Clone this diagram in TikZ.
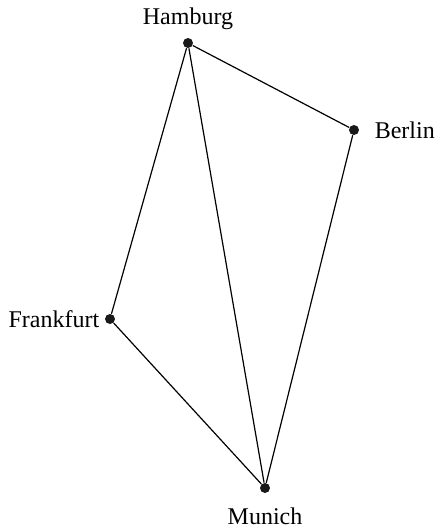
\documentclass[tikz,border=0pt]{standalone}
\usepackage{fontspec}
\setmainfont{Liberation Serif}
\begin{document}
\begin{tikzpicture}[x=0.5pt, y=-0.5pt,
  city/.style={circle, fill=black!90, inner sep=0pt, minimum size=5pt},
  every label/.style={inner sep=0pt, font=\fontsize{12}{14}\selectfont},
  road/.style={line width=0.6pt}]
  \useasboundingbox (0,0) rectangle (437,527);
  % cities
  \node[city, label={[label distance=4pt]above:Hamburg}] (hamburg) at (188,43) {};
  \node[city, label={[label distance=7.5pt]right:Berlin}] (berlin) at (354,130) {};
  \node[city, label={[label distance=2.5pt]left:Frankfurt}] (frankfurt) at (110,319) {};
  \node[city, label={[label distance=7pt]below:Munich}] (munich) at (265,488) {};
  % roads
  \draw[road] (hamburg) -- (berlin) -- (munich) -- (frankfurt) -- (hamburg) -- (munich);
\end{tikzpicture}
\end{document}
